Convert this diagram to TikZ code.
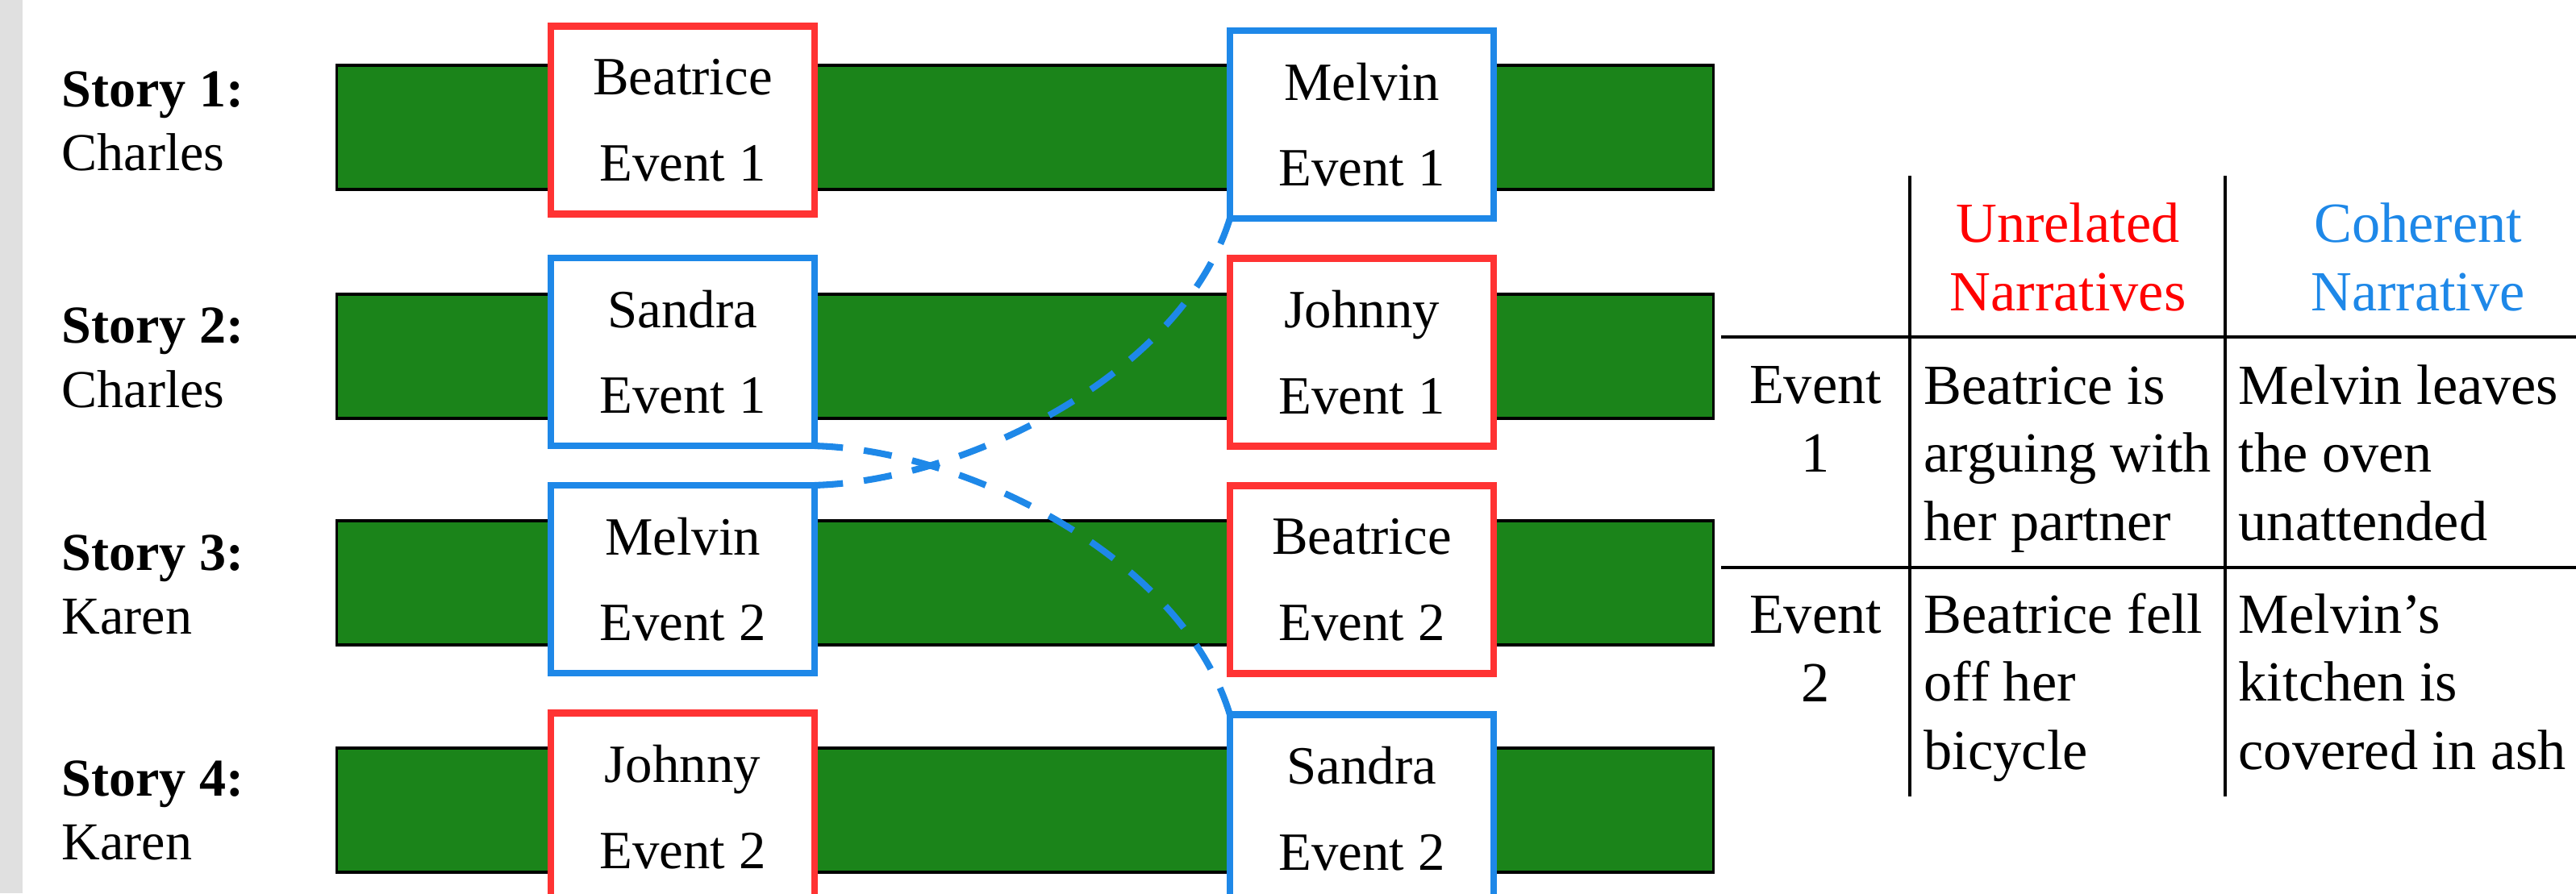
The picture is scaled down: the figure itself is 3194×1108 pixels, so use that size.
\documentclass[tikz,border=0pt]{standalone}
\usepackage{fontspec}
\setmainfont{Liberation Serif}
\definecolor{barGreen}{RGB}{27,132,26}
\definecolor{evRed}{RGB}{255,51,51}
\definecolor{evBlue}{RGB}{30,136,232}
\definecolor{hdRed}{RGB}{255,0,0}
\definecolor{stripGray}{RGB}{224,224,224}
\begin{document}
\begin{tikzpicture}[x=0.01cm,y=-0.01cm,
  bar/.style={draw=black, line width=1.1pt, fill=barGreen, minimum width=17.06cm,
    minimum height=1.54cm, inner sep=0, outer sep=0},
  evbox/.style={fill=white, line width=2.4pt, minimum width=3.27cm, minimum height=2.33cm,
    inner sep=0, outer sep=0, align=center, font=\fontsize{19pt}{30.3pt}\selectfont},
  redbox/.style={evbox, draw=evRed},
  bluebox/.style={evbox, draw=evBlue},
  storytxt/.style={anchor=base west, inner sep=0, font=\fontsize{18.8pt}{22pt}\selectfont},
  link/.style={draw=evBlue, line width=2.3pt, dash pattern=on 10pt off 7.4pt},
  % multi-line cells are placed by the baseline of their last line
  cell/.style={anchor=base west, inner sep=0, align=left, font=\fontsize{20pt}{24pt}\selectfont},
  ccell/.style={anchor=base, inner sep=0, align=center, font=\fontsize{20pt}{24pt}\selectfont},
  rule/.style={draw=black, line width=0.95pt}
]
\useasboundingbox (0,0) rectangle (3194,1108);
\fill[stripGray] (0,0) rectangle (28,1108);

% story timelines
\node[bar] (bar1) at (1271,158) {};
\node[bar] (bar2) at (1271,442) {};
\node[bar] (bar3) at (1271,723) {};
\node[bar] (bar4) at (1271,1005) {};

% story labels
\node[storytxt] (s1a) at (76,132) {\textbf{Story 1:}};
\node[storytxt] (s1b) at (76,211) {Charles};
\node[storytxt] (s2a) at (76,425) {\textbf{Story 2:}};
\node[storytxt] (s2b) at (76,505) {Charles};
\node[storytxt] (s3a) at (76,707) {\textbf{Story 3:}};
\node[storytxt] (s3b) at (76,786) {Karen};
\node[storytxt] (s4a) at (76,987) {\textbf{Story 4:}};
\node[storytxt] (s4b) at (76,1066) {Karen};

% events, first column
\node[redbox]  (L1) at (846.5,149)   {Beatrice\\Event 1};
\node[bluebox] (L2) at (846.5,436.5) {Sandra\\Event 1};
\node[bluebox] (L3) at (846.5,718.5) {Melvin\\Event 2};
\node[redbox]  (L4) at (846.5,1001)  {Johnny\\Event 2};

% events, second column
\node[bluebox] (R1) at (1688.5,154.5) {Melvin\\Event 1};
\node[redbox]  (R2) at (1688.5,437)   {Johnny\\Event 1};
\node[redbox]  (R3) at (1688.5,719)   {Beatrice\\Event 2};
\node[bluebox] (R4) at (1688.5,1003)  {Sandra\\Event 2};

% links between the events of the same character
\draw[link] (L2.south east) .. controls +(185,5) and +(-60,-197) .. (R4.north west);
\draw[link] (L3.north east) .. controls +(185,-5) and +(-60,194) .. (R1.south west);

% table
\draw[rule] (2368,218) -- (2368,988);
\draw[rule] (2759,218) -- (2759,988);
\draw[rule] (2134,418) -- (3194,418);
\draw[rule] (2134,704) -- (3194,704);

\node[ccell, text=hdRed]  (h1) at (2564,385) {Unrelated\\Narratives};
\node[ccell, text=evBlue] (h2) at (2998,385) {Coherent\\Narrative};
\node[ccell] (e1) at (2251,585) {Event\\1};
\node[ccell] (e2) at (2251,870) {Event\\2};
\node[cell] (c11) at (2385,670) {Beatrice is\\arguing with\\her partner};
\node[cell] (c12) at (2775,670) {Melvin leaves\\the oven\\unattended};
\node[cell] (c21) at (2385,954) {Beatrice fell\\off her\\bicycle};
\node[cell] (c22) at (2775,954) {Melvin’s\\kitchen is\\covered in ash};
\end{tikzpicture}
\end{document}
